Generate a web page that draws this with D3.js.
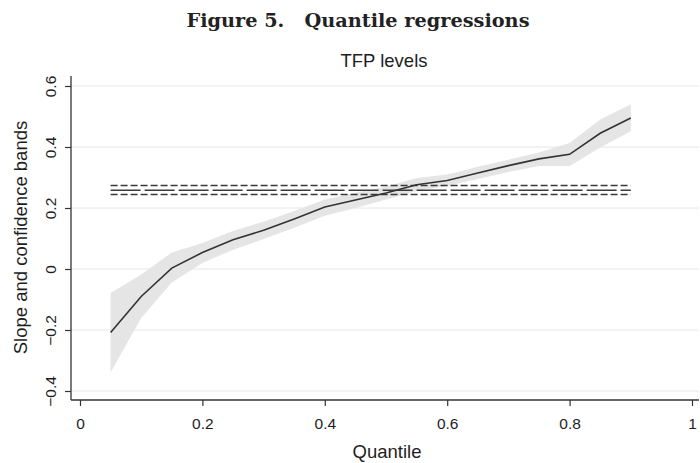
<!DOCTYPE html>
<html>
<head>
<meta charset="utf-8">
<script src="https://cdn.jsdelivr.net/npm/d3@7"></script>
<style>
  body { margin: 0; background: #fff; }
  svg { display: block; }
</style>
</head>
<body>
<div id="chart"></div>
<script>
// data
const quantiles = [0.05, 0.1, 0.15, 0.2, 0.25, 0.3, 0.35, 0.4, 0.45, 0.5, 0.55, 0.6, 0.65, 0.7, 0.75, 0.8, 0.85, 0.9]
const slope = [-0.208, -0.09, 0.003, 0.054, 0.096, 0.127, 0.164, 0.203, 0.226, 0.249, 0.276, 0.29, 0.315, 0.339, 0.361, 0.376, 0.445, 0.495]
const lower = [-0.339, -0.161, -0.044, 0.02, 0.063, 0.098, 0.135, 0.175, 0.2, 0.228, 0.256, 0.272, 0.295, 0.318, 0.338, 0.338, 0.398, 0.452]
const upper = [-0.079, -0.018, 0.054, 0.085, 0.125, 0.155, 0.19, 0.228, 0.25, 0.27, 0.298, 0.31, 0.335, 0.358, 0.382, 0.413, 0.49, 0.54]
const olsLines = [
  { value: 0.274, dash: "7,3" },
  { value: 0.258, dash: "30,4" },
  { value: 0.244, dash: "7,3" },
]
const xTicks = [0, 0.2, 0.4, 0.6, 0.8, 1]
const yTicks = [-0.4, -0.2, 0, 0.2, 0.4, 0.6]

const WIDTH = 700
const HEIGHT = 463
const SANS = "'Liberation Sans', Arial, sans-serif"
const INK = "#1e1e1e"

const svg = d3.select("#chart")
  .append("svg")
  .attr("width", WIDTH)
  .attr("height", HEIGHT)

// SCALES ----------------------
const xScale = d3.scaleLinear().domain([0, 1]).range([80, 692])
const yScale = d3.scaleLinear().domain([-0.4, 0.6]).range([391, 86])

const plotLeft = 71
const plotRight = 699
const plotTop = 76
const plotBottom = 400

// GRID ------------------------
svg.append("g")
  .selectAll("line")
  .data(yTicks)
  .join("line")
  .attr("x1", plotLeft)
  .attr("x2", plotRight)
  .attr("y1", d => yScale(d))
  .attr("y2", d => yScale(d))
  .attr("stroke", "#e6e6e6")
  .attr("stroke-width", 1)

// BAND ------------------------
const rows = quantiles.map((q, i) => ({ q, s: slope[i], lo: lower[i], hi: upper[i] }))

svg.append("path")
  .datum(rows)
  .attr("fill", "#e5e5e5")
  .attr("d", d3.area()
    .x(d => xScale(d.q))
    .y0(d => yScale(d.lo))
    .y1(d => yScale(d.hi)))

// OLS estimate and its band
svg.append("g")
  .selectAll("line")
  .data(olsLines)
  .join("line")
  .attr("x1", xScale(quantiles[0]))
  .attr("x2", xScale(quantiles[quantiles.length - 1]))
  .attr("y1", d => yScale(d.value))
  .attr("y2", d => yScale(d.value))
  .attr("stroke", "#3a3a3a")
  .attr("stroke-width", 1.5)
  .attr("stroke-dasharray", d => d.dash)

svg.append("path")
  .datum(rows)
  .attr("fill", "none")
  .attr("stroke", "#333")
  .attr("stroke-width", 1.6)
  .attr("d", d3.line()
    .x(d => xScale(d.q))
    .y(d => yScale(d.s)))

// AXES ------------------------
const gX = svg.append("g").attr("transform", `translate(0, ${plotBottom})`)
gX.call(d3.axisBottom(xScale).tickValues(xTicks).tickSize(6)
  .tickFormat(d => d === 0 ? "0" : d === 1 ? "1" : d3.format(".1f")(d)))
gX.select(".domain").attr("d", `M${plotLeft},0H${plotRight}`)

const gY = svg.append("g").attr("transform", `translate(${plotLeft}, 0)`)
gY.call(d3.axisLeft(yScale).tickValues(yTicks).tickSize(6)
  .tickFormat(d => d === 0 ? "0" : d3.format(".1f")(d).replace("-", "\u2212")))
gY.select(".domain").attr("d", `M0,${plotTop}V${plotBottom}`)

svg.selectAll(".domain").attr("stroke", "#333").attr("stroke-width", 1.3)
svg.selectAll(".tick line").attr("stroke", "#333").attr("stroke-width", 1.2)
svg.selectAll(".tick text")
  .attr("fill", INK)
  .style("font-family", SANS)
  .style("font-size", "15.5px")

gX.selectAll(".tick text").attr("dy", null).attr("y", 29)

gY.selectAll(".tick text")
  .attr("x", null)
  .attr("dy", null)
  .attr("text-anchor", "middle")
  .attr("transform", "translate(-15.5, 0) rotate(-90)")

// TITLES ----------------------
svg.append("text")
  .attr("x", 358)
  .attr("y", 27)
  .attr("text-anchor", "middle")
  .attr("fill", "#222")
  .attr("textLength", 343)
  .attr("lengthAdjust", "spacingAndGlyphs")
  .style("font-family", "'DejaVu Serif', 'Liberation Serif', serif")
  .style("font-weight", "bold")
  .style("font-size", "18px")
  .text("Figure 5.\u00a0\u00a0\u00a0Quantile regressions")

svg.append("text")
  .attr("x", 384)
  .attr("y", 67)
  .attr("text-anchor", "middle")
  .attr("fill", INK)
  .style("font-family", SANS)
  .style("font-size", "18.5px")
  .text("TFP levels")

svg.append("text")
  .attr("x", 387)
  .attr("y", 458)
  .attr("text-anchor", "middle")
  .attr("fill", INK)
  .style("font-family", SANS)
  .style("font-size", "18.5px")
  .text("Quantile")

svg.append("text")
  .attr("transform", "translate(26.5, 237.5) rotate(-90)")
  .attr("text-anchor", "middle")
  .attr("fill", INK)
  .style("font-family", SANS)
  .style("font-size", "18.5px")
  .text("Slope and confidence bands")
</script>
</body>
</html>
